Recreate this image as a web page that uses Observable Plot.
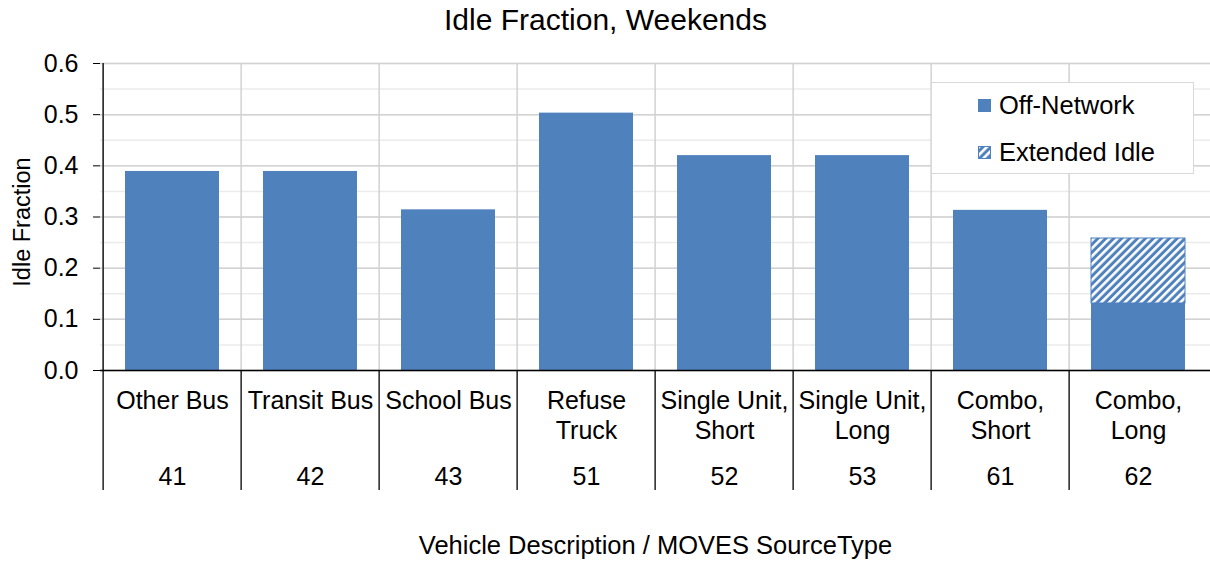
<!DOCTYPE html>
<html>
<head>
<meta charset="utf-8">
<script src="https://cdn.jsdelivr.net/npm/d3@7"></script>
<script src="https://cdn.jsdelivr.net/npm/@observablehq/plot@0.6"></script>
<style>
  html, body { margin: 0; padding: 0; background: #fff; overflow: hidden; }
  #wrap { position: relative; width: 1210px; height: 561px; font-family: "Liberation Sans", Arial, sans-serif; }
  #legend { position: absolute; left: 931px; top: 82px; width: 263px; height: 92px; border: 1px solid #d9d9d9; background: #fff; box-sizing: border-box; }
  .lg-row { position: absolute; left: 46px; height: 30px; display: flex; align-items: center; font-size: 25.5px; color: #000; white-space: nowrap; }
  .lg-row svg { margin-right: 8px; }
</style>
</head>
<body>
<div id="wrap"><div id="legend"></div></div>
<script>
// ---- data ----
const categories = ["Other Bus", "Transit Bus", "School Bus", "Refuse Truck", "Single Unit, Short", "Single Unit, Long", "Combo, Short", "Combo, Long"];
const categoryLabels = ["Other Bus", "Transit Bus", "School Bus", "Refuse\nTruck", "Single Unit,\nShort", "Single Unit,\nLong", "Combo,\nShort", "Combo,\nLong"];
const sourceTypes = ["41", "42", "43", "51", "52", "53", "61", "62"];
const offNetwork = [0.389, 0.389, 0.314, 0.503, 0.420, 0.420, 0.313, 0.131];
const extendedIdle = [0, 0, 0, 0, 0, 0, 0, 0.127];
const seriesNames = ["Off-Network", "Extended Idle"];
const titleText = "Idle Fraction, Weekends";
const xTitle = "Vehicle Description / MOVES SourceType";
const yTitle = "Idle Fraction";

// ---- layout ----
const W = 1210, H = 561, mL = 100, mR = 0, mT = 63, mB = 191;
const step = (W - mL - mR) / categories.length;
const blue = "#4f81bd";

const rows = categories.map((c, i) => ({cat: c, off: offNetwork[i], ext: extendedIdle[i]}));
const extRows = rows.filter(d => d.ext > 0);

const defsMark = () => {
  const defs = d3.create("svg:defs");
  const p = defs.append("pattern").attr("id", "hatch").attr("patternUnits", "userSpaceOnUse")
    .attr("width", 5.6).attr("height", 5.6).attr("patternTransform", "rotate(45)");
  p.append("rect").attr("width", 5.6).attr("height", 5.6).attr("fill", blue);
  p.append("rect").attr("width", 2.6).attr("height", 5.6).attr("fill", "#fff");
  return defs.node();
};

const chart = Plot.plot({
  width: W, height: H,
  marginLeft: mL, marginRight: mR, marginTop: mT, marginBottom: mB,
  style: {fontFamily: "'Liberation Sans', Arial, sans-serif", fontSize: "23px", color: "#000", background: "#fff"},
  x: {domain: categories, paddingInner: 0.32, paddingOuter: 0.16},
  y: {domain: [0, 0.6]},
  marks: [
    defsMark,
    Plot.gridY({ticks: 12, stroke: "#ebebeb", strokeOpacity: 1, strokeWidth: 1.5}),
    Plot.gridY({ticks: 6, stroke: "#d2d2d2", strokeOpacity: 1, strokeWidth: 1.5}),
    Plot.gridX({dx: -step / 2, stroke: "#d2d2d2", strokeOpacity: 1, strokeWidth: 1.5}),
    Plot.barY(rows, {x: "cat", y: "off", fill: blue}),
    Plot.barY(extRows, {x: "cat", y1: "off", y2: d => d.off + d.ext, fill: "url(#hatch)", stroke: blue, strokeWidth: 1}),
    Plot.ruleY([0], {stroke: "#000", strokeWidth: 1.3}),
    Plot.ruleX(categories.slice(0, 1), {x: d => d, dx: -step / 2, stroke: "#000", strokeWidth: 1.3}),
    Plot.axisY({ticks: 6, tickFormat: d3.format(".1f"), tickSize: 7, tickPadding: 15, fontSize: 25, label: null}),
    Plot.axisX({tickSize: 120, dx: -step / 2, tickFormat: () => "", label: null, strokeWidth: 1.3}),
    Plot.text(categoryLabels, {x: (d, i) => categories[i], text: d => d, frameAnchor: "bottom", lineAnchor: "top", dy: 17, fontSize: 25, lineHeight: 1.2}),
    Plot.text(sourceTypes, {x: (d, i) => categories[i], text: d => d, frameAnchor: "bottom", lineAnchor: "middle", dy: 106, fontSize: 25}),
    Plot.text([xTitle], {text: d => d, frameAnchor: "bottom", lineAnchor: "middle", dy: 175, fontSize: 25.5}),
    Plot.text([yTitle], {text: d => d, frameAnchor: "left", textAnchor: "middle", lineAnchor: "middle", rotate: -90, dx: -78, dy: 5, fontSize: 23.5}),
    Plot.text([titleText], {text: d => d, frameAnchor: "top", lineAnchor: "middle", dy: -43, dx: W / 2 - (mL + (W - mL - mR) / 2), fontSize: 30})
  ]
});
const wrap = document.getElementById("wrap");
wrap.insertBefore(chart, wrap.firstChild);

// legend
const legend = document.getElementById("legend");
const swatches = [
  `<svg width="13" height="13"><rect width="13" height="13" fill="${blue}"/></svg>`,
  `<svg width="13" height="13"><rect x="0.5" y="0.5" width="12" height="12" fill="url(#hatch)" stroke="${blue}" stroke-width="1"/></svg>`
];
seriesNames.forEach((name, i) => {
  const row = document.createElement("div");
  row.className = "lg-row";
  row.style.top = (i === 0 ? 7 : 54) + "px";
  row.innerHTML = swatches[i] + `<span>${name}</span>`;
  legend.appendChild(row);
});
</script>
</body>
</html>
